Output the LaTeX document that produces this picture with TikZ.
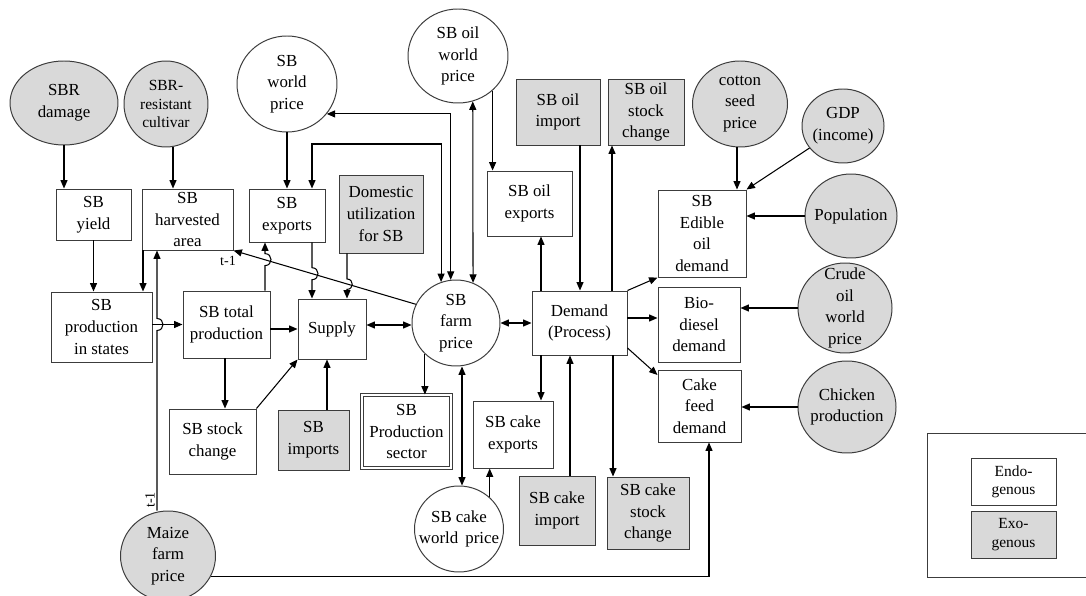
\documentclass[tikz,border=0pt]{standalone}
\usepackage{fontspec}
\setmainfont{Liberation Serif}
\usetikzlibrary{arrows.meta,shapes.geometric}
\definecolor{exofill}{RGB}{217,217,217}
\definecolor{edgec}{RGB}{60,60,60}
\newcommand\boxfont{\fontsize{12}{15.4}\selectfont}
\newcommand\smallboxfont{\fontsize{11}{13}\selectfont}
\tikzset{sz/.style 2 args={minimum width=#1*0.025cm, minimum height=#2*0.025cm}}

\begin{document}
\begin{tikzpicture}[x=0.025cm, y=-0.025cm, endo/.style={draw=edgec, line width=0.7pt, fill=white, align=center, inner sep=0pt, font=\boxfont}, exo/.style={endo, fill=exofill}, endoc/.style={ellipse, draw=edgec, line width=0.7pt, fill=white, inner sep=0pt}, exoc/.style={endoc, fill=exofill}, txt/.style={align=center, inner sep=0pt, font=\boxfont}, arr/.style={-{Triangle[length=6pt,width=5pt]}, line width=0.75pt}, dbl/.style={{Triangle[length=6pt,width=5pt]}-{Triangle[length=6pt,width=5pt]}, line width=0.75pt}, lag/.style={font=\fontsize{10}{12}\selectfont, inner sep=0pt}]
\fill[white] (0,0) rectangle (1086,596);
\useasboundingbox (0,0) rectangle (1086,596);

\node[exoc, sz={108}{84}, label={[txt]center:SBR\\damage}] (dmg) at (64,103) {};
\node[exoc, sz={84}{86}, label={[txt, font=\smallboxfont]center:SBR-\\resistant\\cultivar}] (cult) at (166,104) {};
\node[endoc, sz={100}{96}, label={[txt]center:SB\\world\\price}] (wp) at (287,84) {};
\node[endoc, sz={100}{94}, label={[txt]center:SB oil\\world\\price}] (owp) at (458,56) {};
\node[exo, sz={84}{66}] (oimp) at (558,112) {SB oil\\import};
\node[exo, sz={76}{66}] (ostk) at (646,112) {SB oil\\stock\\change};
\node[exoc, sz={95}{86}, label={[txt]center:cotton\\seed\\price}] (cot) at (740,104) {};
\node[exoc, sz={82}{74}, label={[txt]center:GDP\\(income)}] (gdp) at (843,126) {};
\node[endo, sz={75}{51}] (yield) at (93.5,214.5) {SB\\yield};
\node[endo, sz={91}{61}] (harv) at (187.5,219.5) {SB\\harvested\\area};
\node[endo, sz={76}{53}] (exp) at (287,215.5) {SB\\exports};
\node[exo, sz={84}{78}] (dom) at (381,214) {Domestic\\utilization\\for SB};
\node[endo, sz={85}{65}] (oexp) at (529.5,203.5) {SB oil\\exports};
\node[endo, sz={88}{87}] (edib) at (702,233.5) {SB\\Edible\\oil\\demand};
\node[exoc, sz={92}{84}, label={[txt]center:Population}] (pop) at (851,216) {};
\node[endo, sz={101}{70}] (states) at (101.5,327) {SB\\production\\in states};
\node[endo, sz={87}{67}] (tot) at (226.5,324.5) {SB total\\production};
\node[endo, sz={68}{60}] (sup) at (332,329) {Supply};
\node[endoc, sz={88}{86}, label={[txt]center:SB\\farm\\price}] (fp) at (456,323) {};
\node[endo, sz={95}{64}] (dem) at (579.5,323) {Demand\\(Process)};
\node[endo, sz={82}{75}] (bio) at (699,324.5) {Bio-\\diesel\\demand};
\node[exoc, sz={94}{90}, label={[txt]center:Crude\\oil\\world\\price}] (crude) at (845,308) {};
\node[endo, sz={83}{72}] (cake) at (699.5,406) {Cake\\feed\\demand};
\node[exoc, sz={98}{92}, label={[txt]center:Chicken\\production}] (chick) at (847,407) {};
\node[endo, sz={87}{65}] (stk) at (212.5,441.5) {SB stock\\change};
\node[exo, sz={71}{60}] (imp) at (313.5,440) {SB\\imports};
\node[endo, sz={89}{73}, double, double distance=1.6pt] (prod) at (406.5,431.5) {SB\\Production\\sector};
\node[endo, sz={80}{67}] (cexp) at (513,434.5) {SB cake\\exports};
\node[endoc, sz={89}{86}, label={[txt]center:SB cake\\world\ \,price}] (cwp) at (459,529) {};
\node[exo, sz={76}{69}] (cimp) at (557,510.5) {SB cake\\import};
\node[exo, sz={82}{72}] (cstk) at (648,513) {SB cake\\stock\\change};
\node[exoc, sz={95}{90}, label={[txt]center:Maize\\farm\\price}] (maize) at (168,556) {};

\draw[edgec, line width=0.7pt] (927,433) rectangle (1095,577);
\node[endo, sz={85}{47}, font=\smallboxfont] (lendo) at (1013.5,481.5) {Endo-\\genous};
\node[exo, sz={85}{47}, font=\smallboxfont] (lexo) at (1013.5,534.5) {Exo-\\genous};

\draw[arr] (dmg) -- (yield.north -| dmg);
\draw[arr] (cult.south -| 173,0) -- (harv.north -| 173,0);
\draw[arr] (wp) -- (exp.north -| wp);
\draw[arr] (yield) -- (states.north -| yield);
\draw[arr] (harv.south -| 143,0) -- (states.north -| 143,0);
\draw[arr] (maize.north -| 157,0) -- (157,330.5) .. controls (165,330.5) and (165,318.5) .. (157,318.5) -- (harv.south -| 157,0);
\node[lag, rotate=90] (lagm) at (150,500) {t-1};
\draw[arr] (states.east |- tot.west) -- (tot.west);
\draw[arr] (tot.east |- sup.west) -- (sup.west);
\draw[arr] (tot.south -| 225,0) -- (stk.north -| 225,0);
\draw[arr] (stk.north east) -- (sup.south west);
\draw[arr] (imp.north -| 327,0) -- (sup.south -| 327,0);
\draw[dbl] (sup.east |- 0,325) -- (fp.west |- 0,325);
\draw[arr] (fp.225) -- (prod.north -| fp.225);
\draw[dbl] (fp.south -| 462,0) -- (cwp.north -| 462,0);
\draw[arr] (cwp.46) -- (cexp.south -| cwp.46);
\draw[dbl] (wp.-37) -| (fp.97);
\draw[dbl] (exp.north -| 312,0) |- (fp.110 |- 0,144) -- (fp.110);
\draw[dbl] (owp.-72) -- (fp.67);
\draw[arr] (owp.-45) -- (oexp.north -| owp.-45);
\draw[dbl] (fp.east) -- (dem.west);
\draw[arr] (dem.north -| 541,0) -- (oexp.south -| 541,0);
\draw[arr] (oimp.south -| 580,0) -- (dem.north -| 580,0);
\draw[arr] (dem.north -| 612,0) -- (ostk.south -| 612,0);
\draw[arr] (dem.north east) -- (edib.south west);
\draw[arr] (dem.east |- 0,318) -- (bio.west |- 0,318);
\draw[arr] (dem.east |- 0,348) -- (cake.west |- 0,375);
\draw[arr] (dem.south -| 541,0) -- (cexp.north -| 541,0);
\draw[arr] (cimp.north -| 570,0) -- (dem.south -| 570,0);
\draw[arr] (dem.south -| 613,0) -- (cstk.north -| 613,0);
\draw[arr] (cot.south -| 737,0) -- (edib.north -| 737,0);
\draw[arr] (gdp) -- (edib.north east);
\draw[arr] (pop) -- (edib.east |- pop);
\draw[arr] (crude) -- (bio.east |- crude);
\draw[arr] (chick) -- (cake.east |- chick);
\draw[arr] (maize.-25) -| (cake.south -| 709,0);
\draw[arr] (fp.155) -- (harv.south east);
\node[lag] (lagh) at (228,261) {t-1};
\draw[arr] (tot.north -| 265,0) -- (265,265.6) .. controls (273,265.6) and (273,253.6) .. (265,253.6) -- (exp.south -| 265,0);
\draw[arr] (exp.south -| 312,0) -- (312,267.7) .. controls (320,267.7) and (320,279.7) .. (312,279.7) -- (sup.north -| 312,0);
\draw[arr] (dom.south -| 347,0) -- (347,279) .. controls (354,279) and (354,289.4) .. (347,289.4) -- (sup.north -| 347,0);
\end{tikzpicture}
\end{document}
